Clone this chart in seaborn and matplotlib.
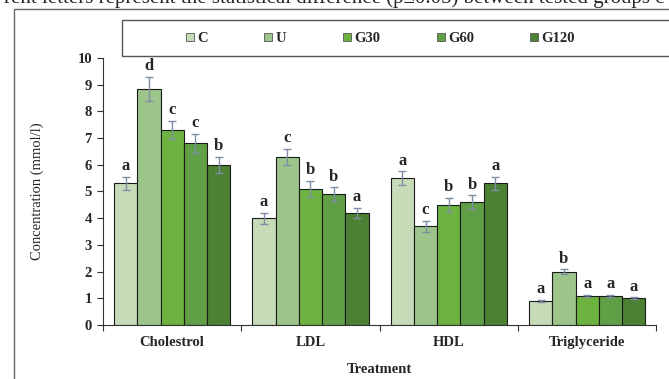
import pandas as pd
import matplotlib.pyplot as plt
import seaborn as sns
from matplotlib.patches import Rectangle
from matplotlib.lines import Line2D

# Chart data
treatments = ["Cholestrol", "LDL", "HDL", "Triglyceride"]
groups = ["C", "U", "G30", "G60", "G120"]
values = {
    "C": [5.3, 4.0, 5.5, 0.9],
    "U": [8.85, 6.3, 3.7, 2.0],
    "G30": [7.3, 5.1, 4.5, 1.1],
    "G60": [6.8, 4.9, 4.6, 1.1],
    "G120": [6.0, 4.2, 5.3, 1.0],
}
errors = {
    "C": [0.25, 0.2, 0.25, 0.05],
    "U": [0.45, 0.3, 0.2, 0.08],
    "G30": [0.35, 0.3, 0.25, 0.04],
    "G60": [0.35, 0.25, 0.25, 0.04],
    "G120": [0.3, 0.2, 0.25, 0.04],
}
letters = {
    "C": ["a", "a", "a", "a"],
    "U": ["d", "c", "c", "b"],
    "G30": ["c", "b", "b", "a"],
    "G60": ["c", "b", "b", "a"],
    "G120": ["b", "a", "a", "a"],
}
colors = ["#c6dcb9", "#9dc58b", "#6cb340", "#609f46", "#4c8033"]

rows = []
for g in groups:
    for i, t in enumerate(treatments):
        rows.append({"Treatment": t, "Group": g, "Value": values[g][i]})
df = pd.DataFrame(rows)

sns.set_style("white")
plt.rcParams["font.family"] = ["Liberation Serif", "DejaVu Serif"]

fig = plt.figure(figsize=(6.69, 3.79), dpi=100)
ax = fig.add_axes([0.154, 0.1425, 0.827, 0.7045])

sns.barplot(data=df, x="Treatment", y="Value", hue="Group", order=treatments,
            hue_order=groups, palette=colors, saturation=1, errorbar=None, width=0.84,
            edgecolor="#1a1a1a", linewidth=0.8, legend=False, ax=ax)

# error bars and significance letters on each bar
for patch_i, patch in enumerate(ax.patches[:len(df)]):
    g = groups[patch_i // len(treatments)]
    t = patch_i % len(treatments)
    cx = patch.get_x() + patch.get_width() / 2
    h = patch.get_height()
    e = errors[g][t]
    ax.errorbar(cx, h, yerr=e, fmt="none", ecolor="#7f8ea3", elinewidth=1,
                capsize=3, capthick=1)
    ax.text(cx, h + e + 0.1, letters[g][t], ha="center", va="bottom",
            fontsize=12, fontweight="bold")

ax.set_ylim(0, 10)
ax.set_xlim(-0.5, 3.5)
ax.set_yticks(range(0, 11))
ax.set_yticklabels([str(v) for v in range(0, 11)], fontweight="bold", fontsize=10.5)
ax.set_xticks([-0.5, 0.5, 1.5, 2.5, 3.5])
ax.set_xticklabels([])
ax.set_xticks(range(4), minor=True)
ax.set_xticklabels(treatments, minor=True, fontweight="bold", fontsize=10.5)
ax.tick_params(axis="x", which="minor", length=0, pad=8)
ax.tick_params(axis="x", which="major", length=4, direction="out", color="#333333", bottom=True)
ax.tick_params(axis="y", length=4, direction="out", color="#333333", left=True, pad=4)
for s in ["top", "right"]:
    ax.spines[s].set_visible(False)
for s in ["left", "bottom"]:
    ax.spines[s].set_color("#333333")
    ax.spines[s].set_linewidth(0.8)

ax.set_xlabel("Treatment", fontweight="bold", fontsize=10.5, labelpad=10)
ax.set_ylabel("Concentration (mmol/l)", fontsize=10.5, labelpad=24)

# outer frame and legend frame
fig.patches.append(Rectangle((14 / 669, -0.1), 1.2, 1 - 9 / 379 + 0.1,
                             transform=fig.transFigure, fill=False,
                             edgecolor="#666666", linewidth=1))
fig.patches.append(Rectangle((122 / 669, 1 - 56 / 379), 1.0, 36 / 379,
                             transform=fig.transFigure, fill=False,
                             edgecolor="#555555", linewidth=1))

handles = [Line2D([], [], marker="s", linestyle="none", markersize=6,
                  markerfacecolor=c, markeredgecolor="#555555", markeredgewidth=0.6)
           for c in colors]
leg = fig.legend(handles, groups, loc="center", bbox_to_anchor=(380 / 669, 1 - 38 / 379),
                 ncol=5, frameon=False, handlelength=0.7, handletextpad=0.15,
                 columnspacing=3.8, prop={"weight": "bold", "size": 10.5})

fig.text(0.5, 1.005, "rent letters represent the statistical difference (p\u22640.05) between tested groups c",
         ha="center", va="center", fontsize=15)

fig.savefig("out.png", dpi=100)
